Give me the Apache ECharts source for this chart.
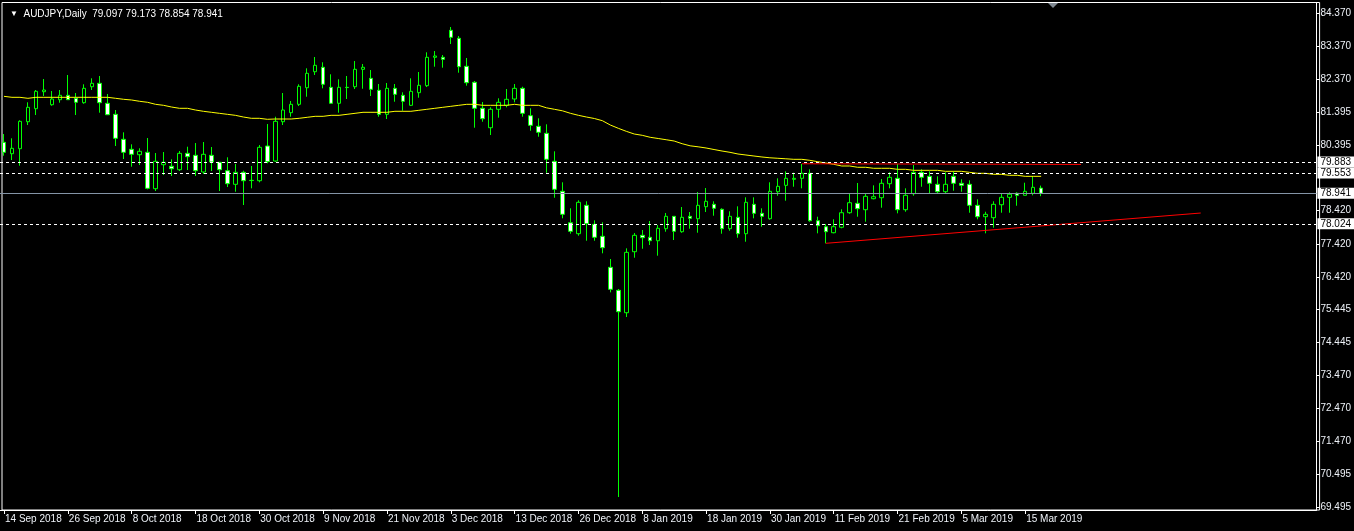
<!DOCTYPE html>
<html><head><meta charset="utf-8">
<script src="https://cdn.jsdelivr.net/npm/echarts@6/dist/echarts.min.js"></script>
<style>html,body{margin:0;padding:0;background:#000;}#c{width:1354px;height:531px;}</style>
</head><body><div id="c"></div>
<script>
const symbolName = 'AUDJPY';
const timeframe = 'Daily';
const dates = [
'14 Sep 2018','17 Sep 2018','18 Sep 2018','19 Sep 2018','20 Sep 2018','21 Sep 2018','24 Sep 2018','25 Sep 2018','26 Sep 2018','27 Sep 2018','28 Sep 2018',
'1 Oct 2018','2 Oct 2018','3 Oct 2018','4 Oct 2018','5 Oct 2018','8 Oct 2018','9 Oct 2018','10 Oct 2018','11 Oct 2018','12 Oct 2018','15 Oct 2018','16 Oct 2018','17 Oct 2018','18 Oct 2018','19 Oct 2018','22 Oct 2018','23 Oct 2018','24 Oct 2018','25 Oct 2018','26 Oct 2018','29 Oct 2018','30 Oct 2018','31 Oct 2018',
'1 Nov 2018','2 Nov 2018','5 Nov 2018','6 Nov 2018','7 Nov 2018','8 Nov 2018','9 Nov 2018','12 Nov 2018','13 Nov 2018','14 Nov 2018','15 Nov 2018','16 Nov 2018','19 Nov 2018','20 Nov 2018','21 Nov 2018','22 Nov 2018','23 Nov 2018','26 Nov 2018','27 Nov 2018','28 Nov 2018','29 Nov 2018','30 Nov 2018',
'3 Dec 2018','4 Dec 2018','5 Dec 2018','6 Dec 2018','7 Dec 2018','10 Dec 2018','11 Dec 2018','12 Dec 2018','13 Dec 2018','14 Dec 2018','17 Dec 2018','18 Dec 2018','19 Dec 2018','20 Dec 2018','21 Dec 2018','24 Dec 2018','26 Dec 2018','27 Dec 2018','28 Dec 2018','31 Dec 2018',
'2 Jan 2019','3 Jan 2019','4 Jan 2019','7 Jan 2019','8 Jan 2019','9 Jan 2019','10 Jan 2019','11 Jan 2019','14 Jan 2019','15 Jan 2019','16 Jan 2019','17 Jan 2019','18 Jan 2019','21 Jan 2019','22 Jan 2019','23 Jan 2019','24 Jan 2019','25 Jan 2019','28 Jan 2019','29 Jan 2019','30 Jan 2019','31 Jan 2019',
'1 Feb 2019','4 Feb 2019','5 Feb 2019','6 Feb 2019','7 Feb 2019','8 Feb 2019','11 Feb 2019','12 Feb 2019','13 Feb 2019','14 Feb 2019','15 Feb 2019','18 Feb 2019','19 Feb 2019','20 Feb 2019','21 Feb 2019','22 Feb 2019','25 Feb 2019','26 Feb 2019','27 Feb 2019','28 Feb 2019',
'1 Mar 2019','4 Mar 2019','5 Mar 2019','6 Mar 2019','7 Mar 2019','8 Mar 2019','11 Mar 2019','12 Mar 2019','13 Mar 2019','14 Mar 2019','15 Mar 2019','18 Mar 2019','19 Mar 2019'
];
const opens = [
80.476,80.133,80.284,81.096,81.488,82.000,81.608,81.759,81.891,81.801,
81.669,82.150,82.253,81.651,81.319,80.567,80.265,80.103,80.175,79.079,
79.802,79.754,79.651,80.145,80.085,79.582,80.085,79.874,79.621,79.212,
79.573,79.332,79.320,80.365,79.913,81.096,81.368,81.620,82.120,82.602,
82.735,82.132,81.651,82.132,82.150,82.674,82.403,82.042,81.319,82.102,
81.891,81.590,81.970,82.181,83.036,83.036,83.849,83.608,82.765,82.283,
81.500,80.916,81.470,81.590,81.780,82.102,81.277,80.958,80.747,79.904,
79.001,78.055,77.724,78.579,78.007,77.646,76.712,76.020,75.345,77.182,
77.676,77.616,77.513,77.875,78.248,77.784,78.248,78.176,78.537,78.609,
78.459,77.875,78.218,77.724,78.609,78.338,78.176,78.989,79.181,79.362,
79.392,79.543,78.115,77.935,77.754,77.917,78.356,78.639,78.447,78.778,
78.808,79.230,79.392,78.447,78.929,79.573,79.452,79.212,78.989,79.452,
79.242,79.212,78.579,78.236,78.206,78.597,78.820,78.941,78.880,78.941,
79.097];
const highs = [
80.726,80.597,81.139,81.681,82.051,82.382,82.021,82.051,82.503,81.961,
82.223,82.403,82.473,81.931,81.449,80.777,80.416,80.296,80.606,80.154,
80.184,79.964,80.214,80.344,80.455,80.485,80.335,79.883,80.025,79.823,
79.621,79.763,80.395,81.027,81.247,81.961,81.720,82.223,82.704,83.045,
82.885,82.524,82.373,82.473,82.924,82.834,82.653,82.232,82.262,82.232,
81.982,82.403,82.593,83.186,83.225,83.105,83.948,83.677,83.015,82.322,
81.690,81.530,81.801,82.081,82.232,82.150,81.500,81.199,81.018,80.205,
79.272,78.489,78.730,78.700,78.127,78.067,76.962,76.059,77.284,77.745,
77.836,78.106,77.986,78.348,78.257,78.528,78.377,78.980,79.100,78.700,
78.489,78.399,78.549,78.820,78.820,78.489,79.272,79.392,79.603,79.561,
79.823,79.663,78.236,78.016,78.158,78.459,78.929,79.251,78.929,79.181,
79.371,79.573,79.823,79.091,79.793,79.663,79.603,79.452,79.573,79.603,
79.362,79.332,78.760,78.386,78.700,78.941,78.971,78.971,79.260,79.452,
79.173];
const lows = [
80.073,79.943,79.772,80.997,81.298,81.870,81.578,81.669,81.750,81.298,
81.638,82.051,81.368,81.307,80.365,79.973,79.742,79.793,79.061,79.010,
79.492,79.461,79.612,79.642,79.461,79.522,79.612,79.010,79.130,78.989,
78.588,79.091,79.272,79.844,79.883,80.997,81.247,81.569,81.849,82.503,
82.102,81.638,81.368,81.780,82.081,82.090,81.870,81.247,81.178,81.699,
81.428,81.569,81.819,82.141,82.753,82.723,83.436,82.572,82.181,80.916,
81.096,80.696,81.217,81.530,81.681,81.247,80.825,80.645,79.561,78.808,
78.188,77.724,77.664,77.513,77.513,77.134,75.959,69.796,75.216,77.001,
77.272,77.384,77.062,77.784,77.534,77.754,77.875,77.754,78.377,78.266,
77.724,77.814,77.604,77.483,78.188,77.935,78.146,78.868,78.718,79.139,
79.091,78.085,77.736,77.435,77.736,77.887,78.326,78.236,78.085,78.760,
78.507,79.091,78.338,78.386,78.868,79.139,78.941,78.941,78.941,79.019,
78.989,78.356,78.158,77.736,77.905,78.356,78.356,78.567,78.880,78.880,
78.854];
const closes = [
80.175,80.296,81.108,81.530,82.012,82.051,81.780,81.891,81.759,81.681,
82.102,82.253,81.669,81.307,80.597,80.175,80.115,80.205,79.091,79.904,
79.874,79.681,80.145,80.043,79.621,80.115,79.883,79.651,79.230,79.573,
79.320,79.325,80.326,79.892,81.108,81.449,81.620,82.162,82.554,82.795,
82.223,81.651,82.132,82.125,82.674,82.735,82.072,81.319,82.102,81.921,
81.711,82.012,82.193,83.036,83.075,82.975,83.638,82.753,82.271,81.500,
81.187,81.470,81.681,81.771,82.102,81.349,80.988,80.777,79.964,79.061,
78.308,77.796,78.670,78.025,77.616,77.303,76.050,75.375,77.164,77.676,
77.604,77.513,77.887,78.248,77.796,78.218,78.188,78.579,78.700,78.489,
77.875,78.248,77.724,78.670,78.338,78.248,79.001,79.151,79.392,79.392,
79.543,78.115,77.965,77.784,77.935,78.356,78.658,78.477,78.850,78.838,
79.242,79.422,78.447,78.880,79.573,79.422,79.242,78.989,79.212,79.242,
79.181,78.579,78.236,78.308,78.609,78.820,78.911,78.880,79.001,79.121,
78.941];
const movingAverage = [
81.861,81.831,81.831,81.801,81.831,81.831,81.831,81.831,81.831,81.831,
81.831,81.831,81.831,81.831,81.801,81.771,81.750,81.711,81.681,81.620,
81.590,81.539,81.500,81.500,81.449,81.410,81.380,81.349,81.319,81.289,
81.238,81.199,81.199,81.169,81.178,81.178,81.178,81.199,81.229,81.259,
81.259,81.289,81.289,81.319,81.349,81.380,81.380,81.380,81.380,81.410,
81.410,81.410,81.440,81.470,81.500,81.530,81.560,81.590,81.620,81.620,
81.590,81.590,81.590,81.590,81.620,81.590,81.590,81.590,81.515,81.470,
81.425,81.349,81.289,81.238,81.193,81.127,80.997,80.898,80.807,80.726,
80.687,80.627,80.591,80.554,80.515,80.434,80.371,80.341,80.305,80.259,
80.214,80.175,80.124,80.094,80.064,80.034,80.010,79.995,79.980,79.964,
79.964,79.934,79.892,79.853,79.814,79.763,79.763,79.724,79.724,79.694,
79.694,79.694,79.663,79.663,79.633,79.633,79.633,79.633,79.603,79.603,
79.603,79.573,79.543,79.543,79.513,79.513,79.483,79.483,79.452,79.452,
79.452];
const yTickLabels = [84.370,83.370,82.370,81.395,80.395,78.420,77.420,76.420,75.445,74.445,73.470,72.470,71.470,70.495,69.495];
const levelLines = [79.883, 79.553, 78.024];
const resistanceLine = [[100, 79.830], [135, 79.810]];
const supportLine = [[103, 77.435], [150, 78.347]];
const futureSlots = 34;

const categories = dates.concat(Array(futureSlots).fill(''));
const candleData = opens.map((o, i) => [o, closes[i], lows[i], highs[i]]);
const lastIdx = closes.length - 1;
const lastClose = closes[lastIdx];
const font = 'Liberation Sans, Arial, sans-serif';
const fmt = v => Number(v).toFixed(3);

const chart = echarts.init(document.getElementById('c'), null, {renderer: 'canvas'});
const levelData = levelLines.map(v => ({name: fmt(v), yAxis: v, lineStyle: {color: '#ffffff', type: [3, 3], width: 1}}));
levelData.push({name: fmt(lastClose), yAxis: lastClose, lineStyle: {color: '#8494a6', type: 'solid', width: 1}});

chart.setOption({
  animation: false,
  backgroundColor: '#000000',
  title: {
    text: '{t|▼}  ' + symbolName + ',' + timeframe + '  ' + [opens[lastIdx], highs[lastIdx], lows[lastIdx], closes[lastIdx]].map(fmt).join(' '),
    left: 5, top: 4,
    textStyle: {color: '#ffffff', fontSize: 10, fontWeight: 'normal', fontFamily: font,
      rich: {t: {fontSize: 8, color: '#ffffff'}}}
  },
  grid: [
    {left: -0.4, right: 34.4, top: 3, bottom: 21, containLabel: false},
    {left: 2, right: 34.4, top: 2.5, bottom: 21, show: true, borderColor: '#ffffff', borderWidth: 1, backgroundColor: 'transparent'}
  ],
  xAxis: [
    {
      type: 'category', data: categories, boundaryGap: true, gridIndex: 0,
      axisLine: {show: true, lineStyle: {color: '#ffffff', width: 1}},
      axisTick: {show: true, alignWithLabel: true, length: 4, interval: (i, v) => i % 8 === 0 && v !== '', lineStyle: {color: '#ffffff'}},
      axisLabel: {show: true, interval: (i, v) => i % 8 === 0 && v !== '', align: 'left', margin: 4, color: '#eef2f8', fontSize: 10, fontFamily: font, padding: [0, 0, 0, 1]},
      splitLine: {show: false}
    },
    {type: 'value', gridIndex: 1, show: false}
  ],
  yAxis: [
    {
      type: 'value', position: 'right', min: 69.405, max: 84.671, gridIndex: 0, scale: true,
      axisLine: {show: true, lineStyle: {color: '#ffffff', width: 1}},
      axisTick: {show: true, length: 3, customValues: yTickLabels, lineStyle: {color: '#ffffff'}},
      axisLabel: {show: true, customValues: yTickLabels, formatter: fmt, margin: 4, color: '#eef2f8', fontSize: 10, fontFamily: font},
      splitLine: {show: false}
    },
    {type: 'value', gridIndex: 1, show: false}
  ],
  graphic: [
    {type: 'polygon', shape: {points: [[1048, 3], [1058, 3], [1053, 8]]}, style: {fill: '#7f8891'}, z: 100}
  ],
  series: [
    {
      type: 'candlestick', name: symbolName, data: candleData, barWidth: 4, z: 2,
      itemStyle: {color: '#000000', color0: '#ffffff', borderColor: '#00ff00', borderColor0: '#00ff00', borderColorDoji: '#00ff00', borderWidth: 1},
      markLine: {
        silent: true, symbol: 'none', animation: false, precision: 3,
        label: {show: true, position: 'end', distance: 1, formatter: '{b}', color: '#000000', backgroundColor: '#ffffff', padding: [1, 4, 0, 3], fontSize: 10, fontFamily: font},
        data: levelData
      }
    },
    {
      type: 'line', name: 'MA', data: movingAverage, symbol: 'none', z: 3,
      lineStyle: {color: '#ffff00', width: 1}
    },
    {
      type: 'line', name: 'resistance', data: resistanceLine, symbol: 'none', z: 4,
      lineStyle: {color: '#ff0000', width: 1}
    },
    {
      type: 'line', name: 'support', data: supportLine, symbol: 'none', z: 4,
      lineStyle: {color: '#ff0000', width: 1}
    }
  ]
});
</script>
</body></html>
